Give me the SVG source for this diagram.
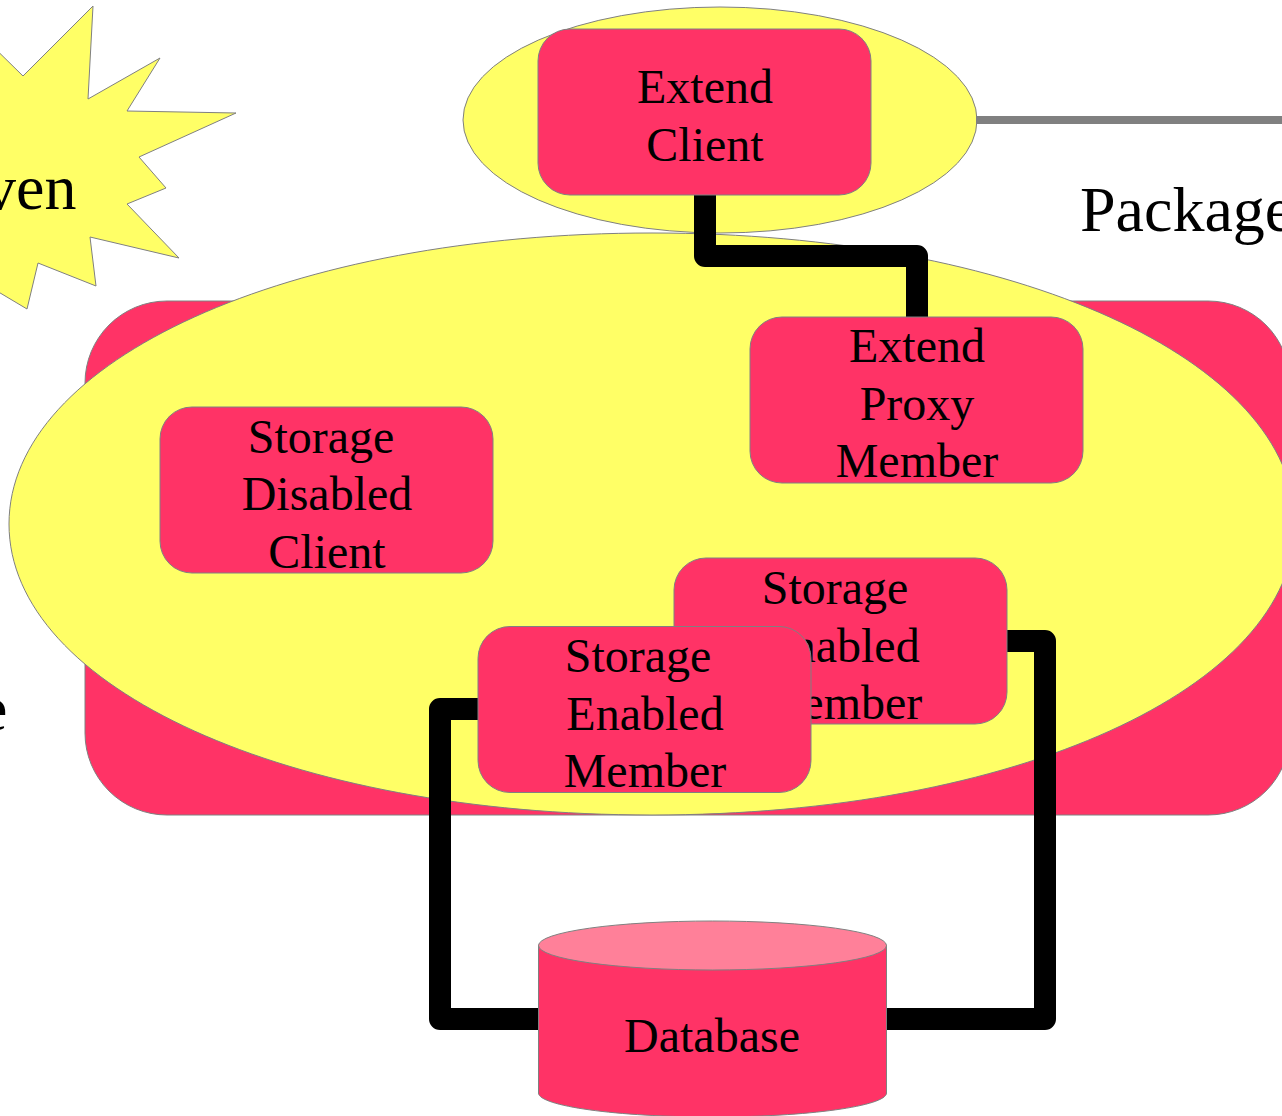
<svg xmlns="http://www.w3.org/2000/svg" width="1282" height="1116" viewBox="0 0 1282 1116">
<style>
text{font-family:"Liberation Serif",serif;font-size:48px;fill:#000;text-anchor:middle}
text.big{font-size:64px;text-anchor:start}
.n{fill:#ff3366;stroke:#808080;stroke-width:1}
.y{fill:#ffff66;stroke:#808080;stroke-width:1}
.c{fill:none;stroke:#000;stroke-width:22;stroke-linejoin:round}
</style>
<rect width="1282" height="1116" fill="#fff"/>
<g id="cluster-box"><rect class="n" x="85" y="301" width="1205" height="514" rx="82"/></g>
<g id="star"><polygon class="y" points="93,6 88,99 160,58 127,111 236,113 139,157 166,188 127,204 179,258 90,237 96,286 38,263 27,309 -30,275 -30,24 23,76"/><text class="big" x="-16" y="209">ven</text></g>
<g id="client-ellipse"><ellipse class="y" cx="720" cy="120" rx="257" ry="113"/></g>
<g id="cluster-ellipse"><path class="y" d="M9 524C9 360 289 233 652 233S1295 360 1295 524S1015 815 652 815S9 688 9 524Z"/></g>
<g id="connectors">
<path class="c" d="M705 195V256H917V317"/>
<path class="c" d="M1007 641H1045V1019H886"/>
<path class="c" d="M478 709H440V1019H539"/>
<path d="M976 120H1282" fill="none" stroke="#808080" stroke-width="8"/>
</g>
<g id="extend-client"><rect class="n" x="538" y="29" width="333" height="166" rx="32"/><text x="705" y="102.500">Extend</text><text x="705" y="160.500">Client</text></g>
<g id="extend-proxy"><rect class="n" x="750" y="317" width="333" height="166" rx="32"/><text x="917" y="361.500">Extend</text><text x="917" y="419.500">Proxy</text><text x="917" y="476.500">Member</text></g>
<g id="storage-disabled"><rect class="n" x="160" y="407" width="333" height="166" rx="32"/><text x="321" y="452.500">Storage</text><text x="327" y="509.500">Disabled</text><text x="327" y="567.500">Client</text></g>
<g id="storage-enabled-back"><rect class="n" x="674" y="558" width="333" height="166" rx="32"/><text x="835" y="603.500">Storage</text><text x="841" y="661.500">Enabled</text><text x="841" y="718.500">Member</text></g>
<g id="storage-enabled-front"><rect class="n" x="478" y="626.500" width="333" height="166" rx="32"/><text x="638" y="671.500">Storage</text><text x="645" y="729.500">Enabled</text><text x="645" y="786.500">Member</text></g>
<g id="database"><path class="n" d="M538.500 945V1093C538.500 1106 617 1117 712.500 1117S886.500 1106 886.500 1093V945Z"/><ellipse cx="712.500" cy="945.500" rx="174" ry="24.500" fill="#ff8099" stroke="#808080"/><text x="712" y="1051.500">Database</text></g>
<g id="labels"><text class="big" x="1080" y="231">Package</text><text class="big" x="-21" y="730">e</text></g>
</svg>
